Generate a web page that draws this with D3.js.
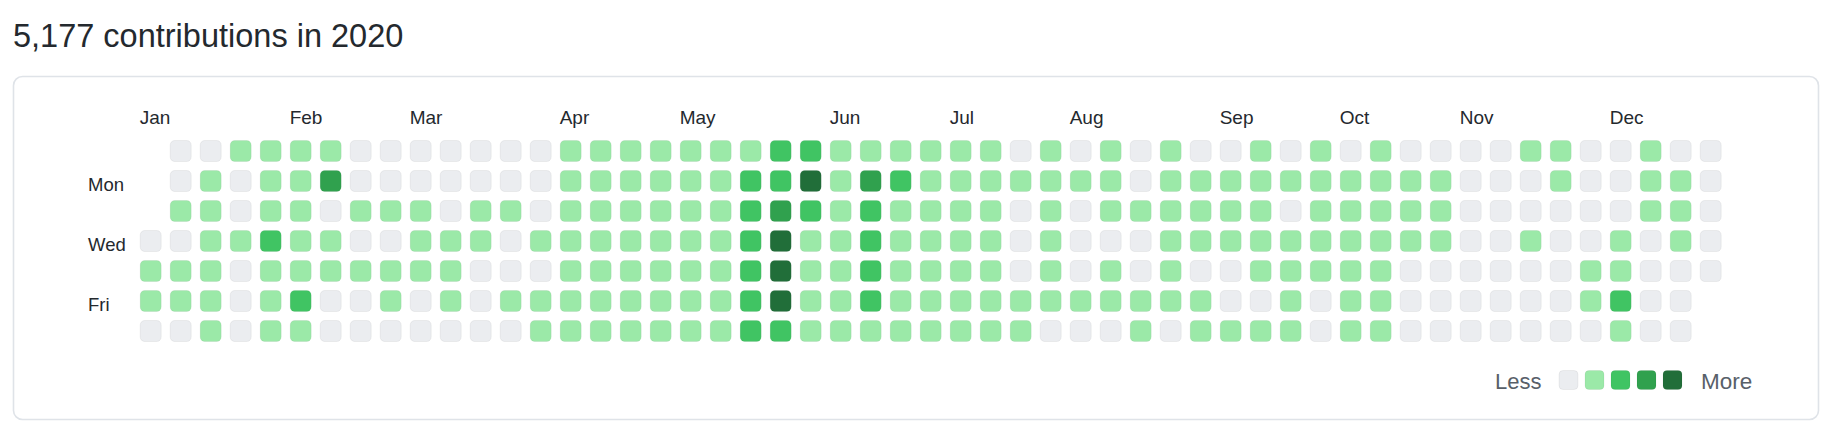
<!DOCTYPE html>
<html>
<head>
<meta charset="utf-8">
<script src="https://cdn.jsdelivr.net/npm/d3@7"></script>
<style>
  html, body { margin: 0; padding: 0; background: #ffffff; }
  svg { display: block; font-family: "Liberation Sans", Arial, Helvetica, sans-serif; }
</style>
</head>
<body>
<svg id="chart" width="1844" height="436"></svg>
<script>
// ---- Data ----
const year = 2020;
const title = "5,177 contributions in 2020";
const monthLabels = ["Jan","Feb","Mar","Apr","May","Jun","Jul","Aug","Sep","Oct","Nov","Dec"];
const dayLabels = [ {row: 1, text: "Mon"}, {row: 3, text: "Wed"}, {row: 5, text: "Fri"} ];
const levelColors = ["#ebedf0", "#9be9a8", "#40c463", "#30a14e", "#216e39"];
const legendLevels = [0, 1, 2, 3, 4];

// Contribution level (0-4) for each weekday, in date order through 2020
const sun = [0,0,1,1,1,1,0,0,0,0,0,0,0, 1,1,1,1,1,1,1,2,2,1,1,1,1,1, 1,0,1,0,1,0,1,0,0,1,0,1,0,1, 0,0,0,0,1,1,0,0,1,0,0];
const mon = [0,1,0,1,1,3,0,0,0,0,0,0,0, 1,1,1,1,1,1,2,2,4,1,3,2,1,1, 1,1,1,1,1,0,1,1,1,1,1,1,1,1, 1,1,0,0,0,1,0,0,1,1,0];
const tue = [1,1,0,1,1,0,1,1,1,0,1,1,0, 1,1,1,1,1,1,2,3,2,1,2,1,1,1, 1,0,1,0,1,1,1,1,1,1,0,1,1,1, 1,1,0,0,0,0,0,0,1,1,0];
const wed = [0,0,1,1,2,1,1,0,0,1,1,1,0,1, 1,1,1,1,1,1,2,4,1,1,2,1,1,1, 1,0,1,0,0,0,1,1,1,1,1,1,1,1, 1,1,0,0,1,0,0,1,0,1,0];
const thu = [1,1,1,0,1,1,1,1,1,1,1,0,0,0, 1,1,1,1,1,1,2,4,1,1,2,1,1,1, 1,0,1,0,1,0,1,0,0,1,1,1,1,1, 0,0,0,0,0,0,1,1,0,0,0];
const fri = [1,1,1,0,1,2,0,0,1,0,1,0,1,1, 1,1,1,1,1,1,2,4,1,1,2,1,1,1, 1,1,1,1,1,1,1,1,0,0,1,0,1,1, 0,0,0,0,0,0,1,2,0,0];
const sat = [0,0,1,0,1,1,0,0,0,0,0,0,0,1, 1,1,1,1,1,1,2,2,1,1,1,1,1,1, 1,1,0,0,0,1,0,1,1,1,1,0,1,1, 0,0,0,0,0,0,0,1,0,0];

// ---- Build cells ----
const byWeekday = [sun, mon, tue, wed, thu, fri, sat];
const yearStart = new Date(year, 0, 1);
const days = d3.timeDays(yearStart, new Date(year + 1, 0, 1));
const counters = [0,0,0,0,0,0,0];
const cells = days.map(d => {
  const row = d.getDay();
  const col = d3.timeWeek.count(yearStart, d);
  const level = byWeekday[row][counters[row]++];
  return { date: d, row, col, level };
});
const nWeeks = d3.max(cells, c => c.col) + 1;

const svg = d3.select("#chart");

// Title
svg.append("text")
  .attr("x", 13).attr("y", 46.5)
  .attr("font-size", 32.5)
  .attr("fill", "#24292e")
  .text(title);

// Box
svg.append("rect")
  .attr("x", 13.5).attr("y", 76.5)
  .attr("width", 1805).attr("height", 343)
  .attr("rx", 9).attr("ry", 9)
  .attr("fill", "#ffffff")
  .attr("stroke", "#dfe3e8")
  .attr("stroke-width", 1.6);

// Scales
const cellStep = 30, cellGap = 8;
const x = d3.scaleBand()
  .domain(d3.range(nWeeks))
  .range([139.7, 139.7 + nWeeks * cellStep - cellGap])
  .paddingInner(cellGap / cellStep);
const y = d3.scaleBand()
  .domain(d3.range(7))
  .range([140, 140 + 7 * cellStep - cellGap])
  .paddingInner(cellGap / cellStep);
const color = d3.scaleOrdinal().domain(legendLevels).range(levelColors);

// Cells
svg.append("g").selectAll("rect")
  .data(cells)
  .join("rect")
  .attr("x", d => x(d.col) + 0.5)
  .attr("y", d => y(d.row) + 0.5)
  .attr("width", x.bandwidth() - 1)
  .attr("height", y.bandwidth() - 1)
  .attr("rx", 4.5).attr("ry", 4.5)
  .attr("fill", d => color(d.level))
  .attr("stroke", "rgba(27,31,35,0.06)")
  .attr("stroke-width", 1);

// Month labels
const monthCols = monthLabels.map((m, i) => {
  const col = i === 0 ? 0 : d3.timeWeek.count(yearStart, d3.timeSunday.ceil(new Date(year, i, 1)));
  return { text: m, col };
});
svg.append("g").selectAll("text")
  .data(monthCols)
  .join("text")
  .attr("x", d => x(d.col))
  .attr("y", 124)
  .attr("font-size", 19)
  .attr("fill", "#24292e")
  .text(d => d.text);

// Day labels
svg.append("g").selectAll("text")
  .data(dayLabels)
  .join("text")
  .attr("x", 88)
  .attr("y", d => y(d.row) + y.bandwidth() / 2 + 10)
  .attr("font-size", 18.5)
  .attr("fill", "#24292e")
  .text(d => d.text);

// Legend
const lx = d3.scaleBand().domain(legendLevels).range([1558.5, 1558.5 + 5 * 26 - 6]).paddingInner(6 / 26);
const legend = svg.append("g");
legend.append("text")
  .attr("x", 1541.5).attr("y", 388.5)
  .attr("text-anchor", "end")
  .attr("font-size", 22)
  .attr("fill", "#586069")
  .text("Less");
legend.selectAll("rect")
  .data(legendLevels)
  .join("rect")
  .attr("x", d => lx(d) + 0.5)
  .attr("y", 370.5)
  .attr("width", lx.bandwidth() - 1)
  .attr("height", 19)
  .attr("rx", 4).attr("ry", 4)
  .attr("fill", d => color(d))
  .attr("stroke", "rgba(27,31,35,0.06)")
  .attr("stroke-width", 1);
legend.append("text")
  .attr("x", 1701).attr("y", 388.5)
  .attr("font-size", 22.5)
  .attr("fill", "#586069")
  .text("More");
</script>
</body>
</html>
